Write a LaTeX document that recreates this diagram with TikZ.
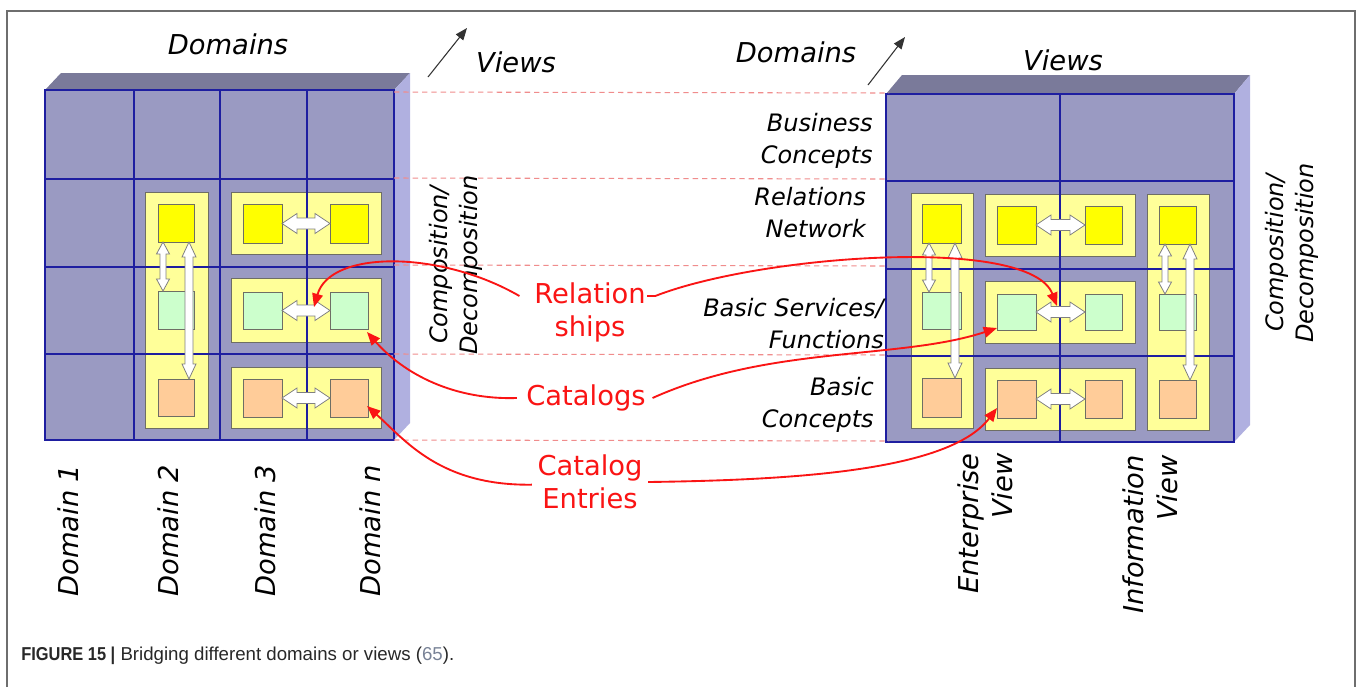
\documentclass[tikz,border=0pt]{standalone}
\usepackage{fontspec}
\setmainfont{DejaVu Sans}
\newfontfamily\capfont{Liberation Sans}
\newfontfamily\capbold[FakeStretch=0.88]{Liberation Sans Bold}
\usetikzlibrary{arrows.meta}
\definecolor{facecol}{RGB}{154,154,194}
\definecolor{topcol}{RGB}{122,122,154}
\definecolor{sidecol}{RGB}{176,176,224}
\definecolor{gridcol}{RGB}{30,30,160}
\definecolor{ylight}{RGB}{255,255,153}
\definecolor{sqY}{RGB}{255,255,0}
\definecolor{sqG}{RGB}{204,255,204}
\definecolor{sqO}{RGB}{255,204,153}
\definecolor{edgecol}{RGB}{110,110,100}
\definecolor{redc}{RGB}{250,20,20}
\definecolor{dashcol}{RGB}{240,140,140}
\definecolor{framecol}{RGB}{110,110,110}
\definecolor{capcol}{RGB}{40,40,40}
\definecolor{linkcol}{RGB}{120,130,150}
% horizontal double arrow: x1, x2, y
\newcommand{\HArr}[3]{%
  \path[darr] (#1,#3) -- ({#1+15},{#3-10}) -- ({#1+15},{#3-5.5}) -- ({#2-15},{#3-5.5}) -- ({#2-15},{#3-10}) -- (#2,#3) -- ({#2-15},{#3+10}) -- ({#2-15},{#3+5.5}) -- ({#1+15},{#3+5.5}) -- ({#1+15},{#3+10}) -- cycle;}
% vertical double arrow: x, y1, y2, shaft half, head half, head length
\newcommand{\VArr}[6]{%
  \path[darr] (#1,#2) -- ({#1+#5},{#2+#6}) -- ({#1+#4},{#2+#6}) -- ({#1+#4},{#3-#6}) -- ({#1+#5},{#3-#6}) -- (#1,#3) -- ({#1-#5},{#3-#6}) -- ({#1-#4},{#3-#6}) -- ({#1-#4},{#2+#6}) -- ({#1-#5},{#2+#6}) -- cycle;}
\begin{document}
\begin{tikzpicture}[x=0.75pt,y=-0.75pt,
  front/.style={fill=facecol},
  topf/.style={fill=topcol},
  sidef/.style={fill=sidecol},
  gridln/.style={draw=gridcol,line width=1.3pt},
  ybox/.style={draw=edgecol,fill=ylight,line width=0.7pt},
  sq/.style={draw=edgecol,line width=0.7pt},
  darr/.style={draw=gray,fill=white,line width=0.6pt},
  dashln/.style={draw=dashcol,line width=0.8pt,dash pattern=on 4pt off 3pt},
  big/.style={inner sep=0pt,font=\fontsize{20.5}{25.5}\selectfont\itshape},
  side/.style={inner sep=0pt,font=\fontsize{18}{24}\selectfont\itshape},
  redlbl/.style={inner sep=0pt,text=redc,align=center,font=\fontsize{20.5}{24.75}\selectfont},
  axisarr/.style={draw=black!80,line width=0.8pt,-{Triangle[length=9pt,width=7pt]}},
  redarr/.style={draw=redc,line width=1.4pt,-{Triangle[length=10pt,width=8pt]}}]
\fill[white] (0,0) rectangle (1357,687);
\useasboundingbox (0,0) rectangle (1357,687);
% frame
\draw[framecol,line width=1.5pt] (7,687) -- (7,11) -- (1355,11) -- (1355,687);

% ---------- left cube ----------
\path[topf] (45,90) -- (61,73) -- (410,73) -- (394,90) -- cycle;
\path[sidef] (394,90) -- (410,73) -- (410,423) -- (394,440) -- cycle;
\path[front] (45,90) rectangle (394,440);
\path[ybox] (145,192) rectangle (208,428);
\path[ybox] (231,192) rectangle (381,254);
\path[ybox] (231,278) rectangle (381,342);
\path[ybox] (231,367) rectangle (381,428);
\draw[gridln] (45,90) rectangle (394,440);
\draw[gridln] (134,90) -- (134,440) (220,90) -- (220,440) (307,90) -- (307,440);
\draw[gridln] (45,179) -- (394,179) (45,267) -- (394,267) (45,354) -- (394,354);
\path[sq,fill=sqY] (158,204) rectangle (194,242);
\path[sq,fill=sqG] (158,291) rectangle (194,329);
\path[sq,fill=sqO] (158,379) rectangle (194,416);
\path[sq,fill=sqY] (243,204) rectangle (282,243);
\path[sq,fill=sqY] (330,204) rectangle (368,243);
\path[sq,fill=sqG] (243,292) rectangle (282,329);
\path[sq,fill=sqG] (330,292) rectangle (368,329);
\path[sq,fill=sqO] (243,379) rectangle (282,417);
\path[sq,fill=sqO] (330,379) rectangle (368,417);
\HArr{282}{330}{223.5}
\HArr{282}{330}{310.5}
\HArr{282}{330}{398}
\VArr{163}{242}{291}{3}{6.5}{12}
\VArr{189}{242}{379}{4}{7}{15}

% ---------- right cube ----------
\path[topf] (886,94) -- (902,75) -- (1250,75) -- (1234,94) -- cycle;
\path[sidef] (1234,94) -- (1250,75) -- (1250,425) -- (1234,442) -- cycle;
\path[front] (886,94) rectangle (1234,442);
\path[ybox] (911,193) rectangle (973,428);
\path[ybox] (985,194) rectangle (1135,256);
\path[ybox] (985,281) rectangle (1135,343);
\path[ybox] (985,368) rectangle (1135,430);
\path[ybox] (1147,194) rectangle (1209,430);
\draw[gridln] (886,94) rectangle (1234,442);
\draw[gridln] (1060,94) -- (1060,442);
\draw[gridln] (886,181) -- (1234,181) (886,269) -- (1234,269) (886,356) -- (1234,356);
\path[sq,fill=sqY] (922,204) rectangle (961,243);
\path[sq,fill=sqG] (922,292) rectangle (961,329);
\path[sq,fill=sqO] (922,378) rectangle (961,417);
\path[sq,fill=sqY] (997,206) rectangle (1036,244);
\path[sq,fill=sqY] (1085,206) rectangle (1122,244);
\path[sq,fill=sqG] (997,294) rectangle (1036,330);
\path[sq,fill=sqG] (1085,294) rectangle (1122,330);
\path[sq,fill=sqO] (997,380) rectangle (1036,418);
\path[sq,fill=sqO] (1085,380) rectangle (1122,418);
\path[sq,fill=sqY] (1159,206) rectangle (1196,244);
\path[sq,fill=sqG] (1159,294) rectangle (1196,330);
\path[sq,fill=sqO] (1159,380) rectangle (1196,418);
\HArr{1036}{1085}{225}
\HArr{1036}{1085}{312}
\HArr{1036}{1085}{399}
\VArr{929}{243}{292}{3}{6.5}{12}
\VArr{955}{243}{378}{4}{7}{15}
\VArr{1165}{244}{294}{3}{6.5}{12}
\VArr{1190}{244}{380}{4}{7}{15}

% dashed bridges
\draw[dashln] (394,92) -- (889,93);
\draw[dashln] (394,178) -- (889,179);
\draw[dashln] (394,265) -- (889,266);
\draw[dashln] (394,354) -- (889,355);
\draw[dashln] (394,440) -- (889,441);

% ---------- labels ----------
\node[big] (domL) at (228,44) {Domains};
\node[big] (viewsL) at (516,62) {Views};
\node[big] (domR) at (796,52) {Domains};
\node[big] (viewsR) at (1063,60) {Views};
\coordinate (ax1s) at (428,77);
\coordinate (ax1e) at (467,28);
\coordinate (ax2s) at (868,85);
\coordinate (ax2e) at (905,37);
\draw[axisarr] (ax1s) -- (ax1e);
\draw[axisarr] (ax2s) -- (ax2e);

\node[side,anchor=east,align=right] (bus) at (873,141) {Business\\Concepts};
\node[side,anchor=east,align=right] (reln) at (866,213) {Relations\\Network};
\node[side,anchor=east,align=right] (bsf) at (884,324) {Basic Services/\\Functions};
\node[side,anchor=east,align=right] (bcon) at (874,405) {Basic\\Concepts};

\node[side,rotate=90,align=center,font=\fontsize{18}{22.5}\selectfont\itshape] (cdL) at (456,265) {Composition/\\Decomposition};
\node[side,rotate=90,align=center,font=\fontsize{18}{22.5}\selectfont\itshape] (cdR) at (1292,253) {Composition/\\Decomposition};

\node[big,rotate=90,anchor=west] (d1) at (68,597) {Domain 1};
\node[big,rotate=90,anchor=west] (d2) at (168,597) {Domain 2};
\node[big,rotate=90,anchor=west] (d3) at (265,597) {Domain 3};
\node[big,rotate=90,anchor=west] (dn) at (370,597) {Domain \textit{n}};
\node[big,rotate=90,anchor=east,align=right] (ev) at (985,453) {Enterprise\\View};
\node[big,rotate=90,anchor=east,align=right] (iv) at (1150,455) {Information\\View};

\node[redlbl] (rel) at (590,312) {Relation\\ships};
\node[redlbl] (cat) at (586,398) {Catalogs};
\node[redlbl] (cate) at (590,482) {Catalog\\Entries};

% red connectors
\coordinate (t1) at (314,307);
\coordinate (t2) at (1057,306);
\coordinate (t3) at (367,332);
\coordinate (t4) at (997,328);
\coordinate (t5) at (367,406);
\coordinate (t6) at (997,408);
\draw[redarr] ([xshift=-11pt,yshift=12pt]rel.west) .. controls (440,250) and (330,250) .. (t1);
\draw[redarr] ([xshift=1pt,yshift=12pt]rel.east) -- ([xshift=7pt,yshift=12pt]rel.east) .. controls (760,255) and (1030,235) .. (t2);
\draw[redarr] ([xshift=-7pt]cat.west) .. controls (455,400) and (405,375) .. (t3);
\draw[redarr] ([xshift=5pt]cat.east) .. controls (770,345) and (900,360) .. (t4);
\draw[redarr] ([xshift=-4pt,yshift=-2pt]cate.west) .. controls (440,486) and (405,440) .. (t5);
\draw[redarr] ([xshift=4pt]cate.east) .. controls (800,480) and (950,470) .. (t6);

% caption
\node[anchor=west,inner sep=0pt,text=capcol,font=\capfont\fontsize{14}{17}\selectfont] (cap) at (21,656)
  {{\capbold FIGURE 15 |} Bridging different domains or views (\textcolor{linkcol}{65}).};
\end{tikzpicture}
\end{document}
